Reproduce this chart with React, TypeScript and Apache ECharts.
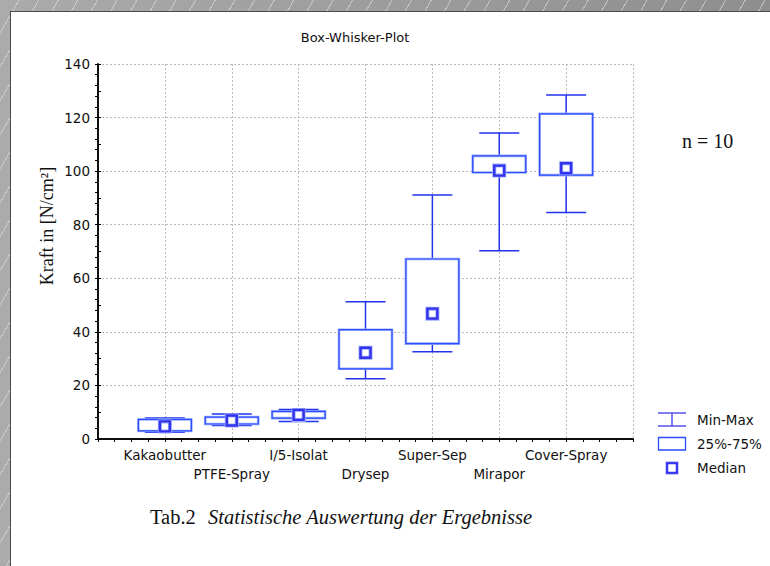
import React, { useEffect, useRef } from 'react';
import * as echarts from 'echarts';

const categories = ['Kakaobutter', 'PTFE-Spray', 'I/5-Isolat', 'Drysep', 'Super-Sep', 'Mirapor', 'Cover-Spray'];
const minValues = [2.5, 5.0, 6.5, 22.5, 32.6, 70.3, 84.6];
const q1Values = [3.0, 5.6, 7.8, 26.2, 35.6, 99.5, 98.5];
const medianValues = [4.7, 6.9, 9.0, 32.2, 46.8, 100.2, 101.1];
const q3Values = [7.3, 8.2, 10.3, 40.8, 67.2, 105.7, 121.4];
const maxValues = [7.8, 9.3, 11.0, 51.2, 91.1, 114.2, 128.4];
const yMin = 0;
const yMax = 140;
const yInterval = 20;
const legendLabels = ['Min-Max', '25%-75%', 'Median'];

const BLUE = '#2233ee';
const BOX_BLUE = '#2a4cff';
const HALO = '#9eaeff';

export default function App() {
  const ref = useRef<HTMLDivElement>(null);
  useEffect(() => {
    if (!ref.current) return;
    const chart = echarts.init(ref.current, undefined, { renderer: 'svg' });
    const data = categories.map((c, i) => [i + 1, minValues[i], q1Values[i], medianValues[i], q3Values[i], maxValues[i]]);
    const labelFont = { fontFamily: 'DejaVu Sans', fontSize: 13.5, color: '#111' };
    const option: any = {
      animation: false,
      backgroundColor: 'transparent',
      grid: { left: 98, top: 64, right: 137, bottom: 127, containLabel: false },
      xAxis: [
        {
          type: 'value', min: 0, max: categories.length + 1, interval: 1, position: 'bottom',
          axisLine: { show: true, lineStyle: { color: '#000', width: 1.5 } },
          axisTick: { show: true, length: 3, lineStyle: { color: '#000' } },
          splitLine: { show: true, lineStyle: { color: '#bbbbbb', type: [2, 2], width: 1 } },
          axisLabel: {
            ...labelFont, margin: 6, lineHeight: 19,
            formatter: (v: number) => {
              const i = Math.round(v) - 1;
              if (i < 0 || i >= categories.length) return '';
              return i % 2 === 1 ? '\n' + categories[i] : categories[i];
            },
          },
        },
        {
          type: 'value', min: 0, max: categories.length + 1, interval: 1, position: 'top',
          axisLine: { show: true, lineStyle: { color: '#000', width: 1.5 } },
          axisTick: { show: true, inside: true, length: 3, lineStyle: { color: '#000' } },
          minorTick: { show: true, splitNumber: 4, length: 3, lineStyle: { color: '#000' } },
          splitLine: { show: false },
          axisLabel: { show: false },
        },
      ],
      yAxis: [
        {
          type: 'value', min: yMin, max: yMax, interval: yInterval, position: 'left',
          axisLine: { show: true, lineStyle: { color: '#000', width: 1.5 } },
          axisTick: { show: true, inside: true, length: 3, lineStyle: { color: '#000' } },
          minorTick: { show: true, splitNumber: 2, length: 3, lineStyle: { color: '#000' } },
          splitLine: { show: true, lineStyle: { color: '#bbbbbb', type: [2, 2], width: 1 } },
          axisLabel: { ...labelFont, fontSize: 13.5, margin: 8 },
        },
        {
          type: 'value', min: yMin, max: yMax, interval: yInterval, position: 'right',
          axisLine: { show: true, lineStyle: { color: '#000', width: 1.5 } },
          axisTick: { show: true, inside: true, length: 3, lineStyle: { color: '#000' } },
          minorTick: { show: true, splitNumber: 5, length: 3, lineStyle: { color: '#000' } },
          splitLine: { show: false },
          axisLabel: { show: false },
        },
      ],
      series: [
        {
          type: 'custom',
          xAxisIndex: 0,
          yAxisIndex: 0,
          encode: { x: 0, y: [1, 2, 3, 4, 5] },
          data,
          renderItem: (params: any, api: any) => {
            const x = api.value(0);
            const pMin = api.coord([x, api.value(1)]);
            const pQ1 = api.coord([x, api.value(2)]);
            const pMed = api.coord([x, api.value(3)]);
            const pQ3 = api.coord([x, api.value(4)]);
            const pMax = api.coord([x, api.value(5)]);
            const cx = pMin[0];
            const bw = 53;
            const cw = 40;
            const ms = 10;
            const wStyle = { stroke: BLUE, lineWidth: 1.5 };
            return {
              type: 'group',
              children: [
                { type: 'line', shape: { x1: cx, y1: pMax[1], x2: cx, y2: pQ3[1] }, style: wStyle },
                { type: 'line', shape: { x1: cx, y1: pQ1[1], x2: cx, y2: pMin[1] }, style: wStyle },
                { type: 'line', shape: { x1: cx - cw / 2, y1: pMax[1], x2: cx + cw / 2, y2: pMax[1] }, style: wStyle },
                { type: 'line', shape: { x1: cx - cw / 2, y1: pMin[1], x2: cx + cw / 2, y2: pMin[1] }, style: wStyle },
                { type: 'rect', shape: { x: cx - bw / 2, y: pQ3[1], width: bw, height: pQ1[1] - pQ3[1] }, style: { fill: '#fff', stroke: HALO, lineWidth: 2.6 } },
                { type: 'rect', shape: { x: cx - bw / 2, y: pQ3[1], width: bw, height: pQ1[1] - pQ3[1] }, style: { fill: 'none', stroke: BOX_BLUE, lineWidth: 1.2 } },
                { type: 'rect', shape: { x: cx - ms / 2, y: pMed[1] - ms / 2, width: ms, height: ms }, style: { fill: '#fff', stroke: HALO, lineWidth: 4 } },
                { type: 'rect', shape: { x: cx - ms / 2, y: pMed[1] - ms / 2, width: ms, height: ms }, style: { fill: 'none', stroke: '#3333ee', lineWidth: 2.4 } },
              ],
            };
          },
        },
      ],
      graphic: [
        { type: 'text', x: 355, y: 37, style: { text: 'Box-Whisker-Plot', fontFamily: 'DejaVu Sans', fontSize: 13, fill: '#111', align: 'center', verticalAlign: 'middle' } },
        { type: 'text', x: 47, y: 226, rotation: Math.PI / 2, style: { text: 'Kraft in [N/cm²]', fontFamily: 'Liberation Serif', fontSize: 18, fill: '#111', align: 'center', verticalAlign: 'middle' } },
        { type: 'text', x: 682, y: 141, style: { text: 'n = 10', fontFamily: 'Liberation Serif', fontSize: 20, fill: '#111', align: 'left', verticalAlign: 'middle' } },
        // legend
        { type: 'line', shape: { x1: 658, y1: 413, x2: 686, y2: 413 }, style: { stroke: '#5555ee', lineWidth: 1.5 } },
        { type: 'line', shape: { x1: 658, y1: 426, x2: 686, y2: 426 }, style: { stroke: '#5555ee', lineWidth: 1.5 } },
        { type: 'line', shape: { x1: 672, y1: 413, x2: 672, y2: 426 }, style: { stroke: '#5555ee', lineWidth: 1.5 } },
        { type: 'rect', shape: { x: 658.5, y: 437.5, width: 27, height: 12.5 }, style: { fill: '#fff', stroke: BOX_BLUE, lineWidth: 1.3 } },
        { type: 'rect', shape: { x: 667, y: 463, width: 10, height: 10 }, style: { fill: '#fff', stroke: '#3a3aee', lineWidth: 2.5 } },
        { type: 'text', x: 697, y: 420, style: { text: legendLabels[0], fontFamily: 'DejaVu Sans', fontSize: 13.5, fill: '#111', verticalAlign: 'middle' } },
        { type: 'text', x: 697, y: 444, style: { text: legendLabels[1], fontFamily: 'DejaVu Sans', fontSize: 13.5, fill: '#111', verticalAlign: 'middle' } },
        { type: 'text', x: 697, y: 468, style: { text: legendLabels[2], fontFamily: 'DejaVu Sans', fontSize: 13.5, fill: '#111', verticalAlign: 'middle' } },
        { type: 'text', x: 150, y: 517, style: { text: 'Tab.2', fontFamily: 'Liberation Serif', fontSize: 20.5, fill: '#111', verticalAlign: 'middle' } },
        { type: 'text', x: 208, y: 517, style: { text: 'Statistische Auswertung der Ergebnisse', fontFamily: 'Liberation Serif', fontSize: 20.5, fontStyle: 'italic', fill: '#111', verticalAlign: 'middle' } },
      ],
    };
    chart.setOption(option);
    return () => chart.dispose();
  }, []);

  return (
    <div
      style={{
        position: 'absolute', left: 0, top: 0, width: 770, height: 566, overflow: 'hidden',
        background: 'repeating-linear-gradient(120deg, rgba(255,255,255,0) 0px, rgba(255,255,255,0) 16px, rgba(230,230,230,0.55) 16px, rgba(230,230,230,0.55) 17px), linear-gradient(90deg, #ababab, #8e8e8e)',
      }}
    >
      <div
        style={{
          position: 'absolute', left: 10, top: 11, right: 0, bottom: 0, background: '#fff',
          borderLeft: '1.5px solid #4a4a4a', borderTop: '1.5px solid #4a4a4a',
        }}
      />
      <div ref={ref} style={{ position: 'absolute', left: 0, top: 0, width: 770, height: 566 }} />
    </div>
  );
}
